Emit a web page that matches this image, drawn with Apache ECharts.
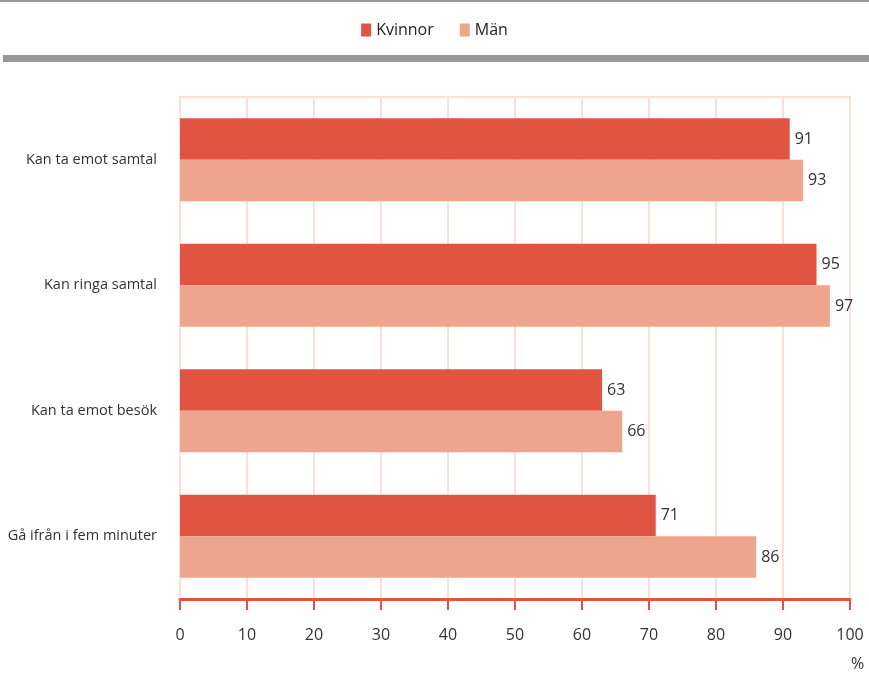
<!DOCTYPE html>
<html><head><meta charset="utf-8">
<script src="https://cdn.jsdelivr.net/npm/echarts@6/dist/echarts.min.js"></script>
<style>html,body{margin:0;padding:0;background:#fff}#c{width:869px;height:673px}</style>
</head><body><div id="c"></div>
<script>
const categories = ["Kan ta emot samtal", "Kan ringa samtal", "Kan ta emot besök", "Gå ifrån i fem minuter"];
const kvinnor = [91, 95, 63, 71];
const man = [93, 97, 66, 86];
const seriesNames = ["Kvinnor", "Män"];
const xTicks = [0, 10, 20, 30, 40, 50, 60, 70, 80, 90, 100];

const font = '"Open Sans", "Noto Sans", sans-serif';
const chart = echarts.init(document.getElementById('c'));
chart.setOption({
  animation: false,
  textStyle: { fontFamily: font },
  graphic: [
    { type: 'rect', shape: { x: 0, y: 0, width: 869, height: 2 }, style: { fill: '#9a9a9e' } },
    { type: 'rect', shape: { x: 3, y: 55, width: 866, height: 7 }, style: { fill: '#97979a' } },
    { type: 'text', x: 851, y: 656, style: { text: '%', fontSize: 16, fill: '#333', fontFamily: font } }
  ],
  legend: {
    top: 17, left: 'center',
    data: seriesNames,
    itemWidth: 10, itemHeight: 13, itemGap: 26,
    icon: 'rect',
    textStyle: { fontSize: 16, color: '#222', fontFamily: font }
  },
  grid: {
    left: 180, right: 19, top: 97, bottom: 74,
    show: true, borderColor: '#fbe1d8', borderWidth: 2
  },
  xAxis: {
    type: 'value', min: xTicks[0], max: xTicks[xTicks.length - 1], interval: 10,
    axisLine: { show: true, lineStyle: { color: '#e05441', width: 3 } },
    axisTick: { show: true, length: 11, lineStyle: { color: '#e05441', width: 2 } },
    axisLabel: { margin: 28, fontSize: 16, color: '#333', fontFamily: font },
    splitLine: { show: true, lineStyle: { color: '#fbe1d8', width: 2 } }
  },
  yAxis: {
    type: 'category', data: categories, inverse: true,
    axisLine: { show: false }, axisTick: { show: false },
    axisLabel: { margin: 23, fontSize: 14.5, color: '#333', fontFamily: font }
  },
  series: [
    { name: seriesNames[0], type: 'bar', data: kvinnor, barGap: '0%', barCategoryGap: '34%',
      itemStyle: { color: '#e05441' },
      label: { show: true, position: 'right', distance: 5, fontSize: 16, color: '#333', fontFamily: font } },
    { name: seriesNames[1], type: 'bar', data: man,
      itemStyle: { color: '#efa58d' },
      label: { show: true, position: 'right', distance: 5, fontSize: 16, color: '#333', fontFamily: font } }
  ]
});
</script></body></html>
